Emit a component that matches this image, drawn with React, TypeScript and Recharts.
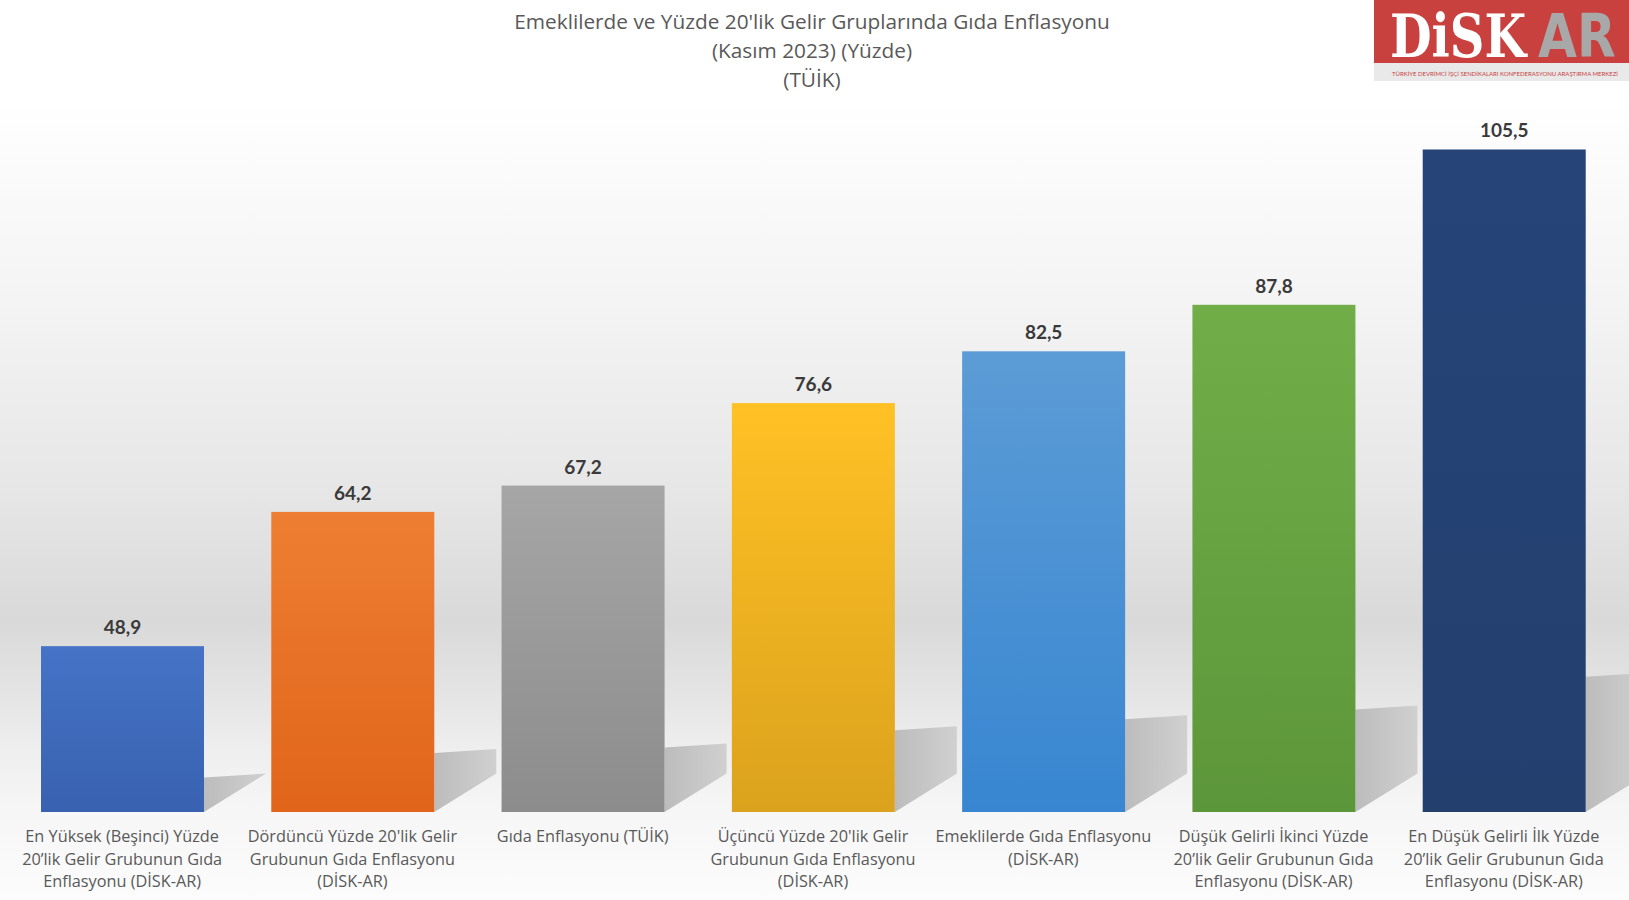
import React from "react";
import { BarChart, Bar, XAxis, YAxis, Cell, LabelList } from "recharts";

const categories = [
  "En Yüksek (Beşinci) Yüzde\n20’lik Gelir Grubunun Gıda\nEnflasyonu (DİSK-AR)",
  "Dördüncü Yüzde 20'lik Gelir\nGrubunun Gıda Enflasyonu\n(DİSK-AR)",
  "Gıda Enflasyonu (TÜİK)",
  "Üçüncü Yüzde 20'lik Gelir\nGrubunun Gıda Enflasyonu\n(DİSK-AR)",
  "Emeklilerde Gıda Enflasyonu\n(DİSK-AR)",
  "Düşük Gelirli İkinci Yüzde\n20’lik Gelir Grubunun Gıda\nEnflasyonu (DİSK-AR)",
  "En Düşük Gelirli İlk Yüzde\n20’lik Gelir Grubunun Gıda\nEnflasyonu (DİSK-AR)",
];
const values = [48.9, 64.2, 67.2, 76.6, 82.5, 87.8, 105.5];
const topColors = ["#4673c6", "#ee7e33", "#a6a6a6", "#ffc125", "#5c9cd6", "#71ae48", "#264478"];
const bottomColors = ["#3862b0", "#e0651a", "#8c8c8c", "#dba21d", "#3886d1", "#5c963a", "#223f6e"];
const titleLines = [
  "Emeklilerde ve Yüzde 20'lik Gelir Gruplarında Gıda Enflasyonu",
  "(Kasım 2023) (Yüzde)",
  "(TÜİK)",
];

const data = categories.map((name, i) => ({ name, value: values[i] }));

const FONT = "'Open Sans', Lato, sans-serif";
const LABEL_FONT = "Lato, 'Open Sans', sans-serif";

function CategoryTick(props: any) {
  const { x, y, payload } = props;
  const lines: string[] = String(payload.value).split("\n");
  return (
    <text x={x} y={y + 30} textAnchor="middle" fill="#595959" fontSize={16.3} fontFamily={FONT}>
      {lines.map((l, i) => (
        <tspan key={i} x={x} dy={i === 0 ? 0 : 22.5}>{l}</tspan>
      ))}
    </text>
  );
}

function ShadowBar(props: any) {
  const { x, y, width, height, index } = props;
  const right = x + width;
  const base = y + height;
  const dx = 62;
  const floor = base - dx * 0.62;
  const sTop = Math.min(base - height * 0.21, floor);
  const pts = [
    [right, base],
    [right + dx, floor],
    [right + dx, sTop],
    [right, sTop + 4],
  ].map((p) => p.join(",")).join(" ");
  return (
    <g>
      <polygon points={pts} fill="url(#shadowGrad)" />
      <rect x={x} y={y} width={width} height={height} fill={`url(#barGrad${index})`} />
    </g>
  );
}

function Logo() {
  return (
    <svg width={255} height={81} style={{ position: "absolute", left: 1374, top: 0 }}>
      <rect x={0} y={0} width={255} height={63} fill="#c8413f" />
      <rect x={0} y={63} width={255} height={18} fill="#e9e9e9" />
      <text transform="translate(16,57) scale(0.8,1)" fontFamily="'DejaVu Serif', serif" fontWeight={700}
        fontSize={60} fill="#ffffff">DiSK</text>
      <text transform="translate(164,57) scale(0.84,1)" fontFamily="'DejaVu Sans', sans-serif" fontWeight={700}
        fontSize={60} fill="#a8a8a8">AR</text>
      <text x={18} y={76} fontFamily={LABEL_FONT} fontSize={6} fill="#c8413f"
        textLength={226} lengthAdjust="spacingAndGlyphs">
        TÜRKİYE DEVRİMCİ İŞÇİ SENDİKALARI KONFEDERASYONU ARAŞTIRMA MERKEZİ
      </text>
    </svg>
  );
}

export default function App() {
  return (
    <div
      style={{
        position: "absolute",
        left: 0,
        top: 0,
        width: 1629,
        height: 900,
        overflow: "hidden",
        background:
          "linear-gradient(to bottom, #ffffff 0%, #ffffff 11%, #f3f3f3 35%, #e6e6e6 55%, #d9d9d9 69%, #e4e4e4 77%, #eeeeee 83%, #f6f6f6 90%, #fcfcfc 100%)",
      }}
    >
      <div
        style={{
          position: "absolute",
          left: 0,
          top: 7,
          width: 1624,
          textAlign: "center",
          fontFamily: FONT,
          fontSize: 20.8,
          lineHeight: "29px",
          color: "#595959",
        }}
      >
        {titleLines.map((t, i) => (
          <div key={i}>{t}</div>
        ))}
      </div>

      <Logo />

      <div style={{ position: "absolute", left: 0, top: 0 }}>
        <BarChart width={1629} height={900} data={data} margin={{ top: 110, right: 10, left: 7, bottom: 0 }}>
          <defs>
            {topColors.map((c, i) => (
              <linearGradient key={i} id={`barGrad${i}`} x1="0" y1="0" x2="0" y2="1">
                <stop offset="0%" stopColor={c} />
                <stop offset="100%" stopColor={bottomColors[i]} />
              </linearGradient>
            ))}
            <linearGradient id="shadowGrad" x1="0" y1="0" x2="1" y2="0">
              <stop offset="0%" stopColor="#bcbcbc" />
              <stop offset="100%" stopColor="#d0d0d0" />
            </linearGradient>
          </defs>
          <XAxis
            dataKey="name"
            axisLine={false}
            tickLine={false}
            tickSize={0}
            tickMargin={0}
            interval={0}
            height={88}
            tick={<CategoryTick />}
          />
          <YAxis hide width={0} domain={[30, 110]} allowDataOverflow />
          <Bar dataKey="value" barSize={163} isAnimationActive={false} shape={(p: any) => <ShadowBar {...p} />}>
            {data.map((_, i) => (
              <Cell key={i} fill={topColors[i]} />
            ))}
            <LabelList
              dataKey="value"
              position="top"
              offset={12}
              formatter={(v: any) => Number(v).toFixed(1).replace(".", ",")}
              style={{ fontFamily: LABEL_FONT, fontSize: 19, fontWeight: 700, fill: "#3a3a3a" }}
            />
          </Bar>
        </BarChart>
      </div>
    </div>
  );
}
